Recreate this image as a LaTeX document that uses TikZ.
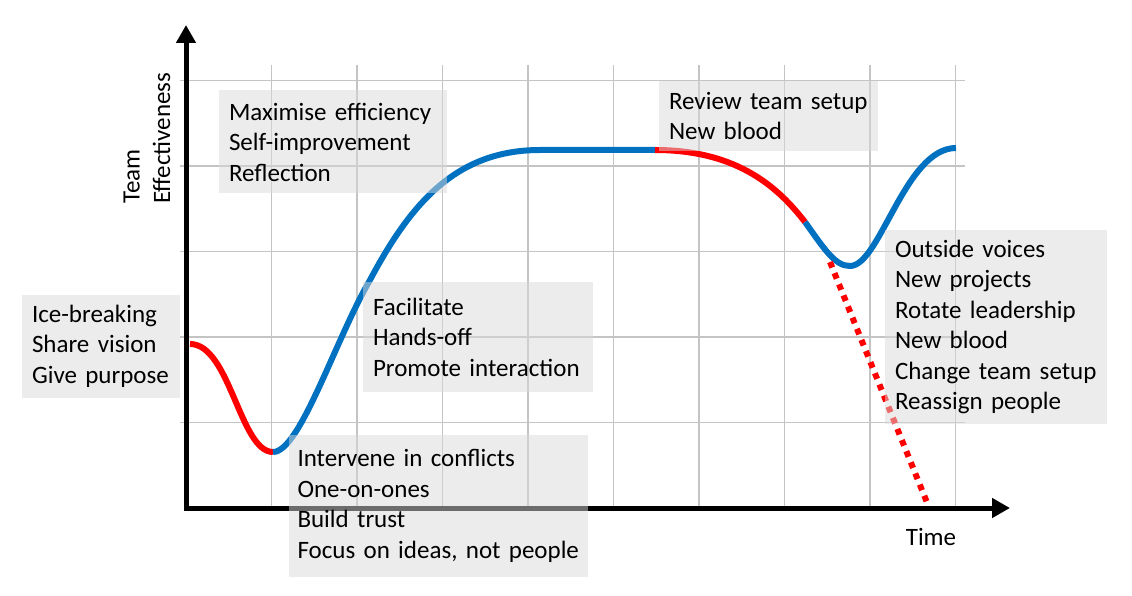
\documentclass[tikz,border=0pt]{standalone}
\usepackage{fontspec}
\setmainfont{Carlito}
\usetikzlibrary{arrows.meta}
\definecolor{curveblue}{HTML}{0070C0}
\definecolor{curvered}{HTML}{FF0000}
\definecolor{gridgray}{HTML}{C4C4C4}
\begin{document}
\begin{tikzpicture}[x=1pt, y=-1pt,
    axis/.style     = {line width=5pt, -{Triangle[width=19pt,length=18pt]}},
    gridline/.style = {gridgray, line width=1.3pt},
    good/.style     = {curveblue, line width=6pt},
    bad/.style      = {curvered, line width=6pt},
    note/.style     = {fill=black!15, fill opacity=0.5, text opacity=1, align=left,
                       inner xsep=10pt, inner ysep=0pt,
                       font=\fontsize{25}{30.5}\selectfont},
    lbl/.style      = {font=\fontsize{25}{30.5}\selectfont},
  ]
    \useasboundingbox (0,0) rectangle (1132,596);

    \foreach \i in {1,...,9}
      \draw[gridline] ({186+85.5*\i},65) -- ({186+85.5*\i},508);
    \foreach \j in {1,...,5}
      \draw[gridline] (180,{508-85.5*\j}) -- (965,{508-85.5*\j});

    \coordinate (origin) at (186,508);
    \coordinate (ytip)   at (186,25);
    \coordinate (xtip)   at (1010,508);

    \coordinate (c0) at (190,344);
    \coordinate (c1) at (273,452);
    \coordinate (c2) at (370,280);
    \coordinate (c3) at (540,150);
    \coordinate (c4) at (655,150);
    \coordinate (c5) at (805,222);
    \coordinate (c6) at (850,266);
    \coordinate (c7) at (956,148);
    \coordinate (d0) at (830,262);
    \coordinate (d1) at (928,505);

    \draw[bad]  (c0) .. controls (230,344) and (240,452) .. (c1);
    \draw[good] (c1) .. controls (300,452) and (335,340) .. (c2)
                     .. controls (410,205) and (455,150) .. (c3) -- (c4);
    \draw[bad]  (c4) .. controls (740,150) and (780,190) .. (c5);
    \draw[good] (c5) .. controls (825,250) and (835,266) .. (c6)
                     .. controls (880,266) and (905,148) .. (c7);
    \draw[bad, dash pattern=on 6pt off 6pt] (d0) -- (d1);

    \draw[axis] ([yshift=2.5pt]origin) -- (ytip);
    \draw[axis] ([xshift=-2.5pt]origin) -- (xtip);

    \node[note, text width=138pt, minimum height=103pt] (icebreak)   at (101,346)
         {Ice-breaking\\Share vision\\Give purpose};
    \node[note, text width=208pt, minimum height=103pt] (maximise)   at (333,142)
         {Maximise efficiency\\Self-improvement\\Reflection};
    \node[note, text width=210pt, minimum height=110pt] (facilitate) at (478,337)
         {Facilitate\\Hands-off\\Promote interaction};
    \node[note, text width=282pt, inner xsep=8.5pt, minimum height=142pt] (intervene)  at (438.5,506)
         {Intervene in conflicts\\One-on-ones\\Build trust\\Focus on ideas, not people};
    \node[note, text width=199pt, minimum height=70pt]  (review)     at (768.5,116)
         {Review team setup\\New blood};
    \node[note, text width=202pt, minimum height=194pt] (outside)    at (996,327)
         {Outside voices\\New projects\\Rotate leadership\\New blood\\Change team setup\\Reassign people};

    \node[lbl, rotate=90, align=left] (ylabel)    at (147,138) {Team\\Effectiveness};
    \node[lbl]                        (timelabel) at (931,537) {Time};
  \end{tikzpicture}
\end{document}
